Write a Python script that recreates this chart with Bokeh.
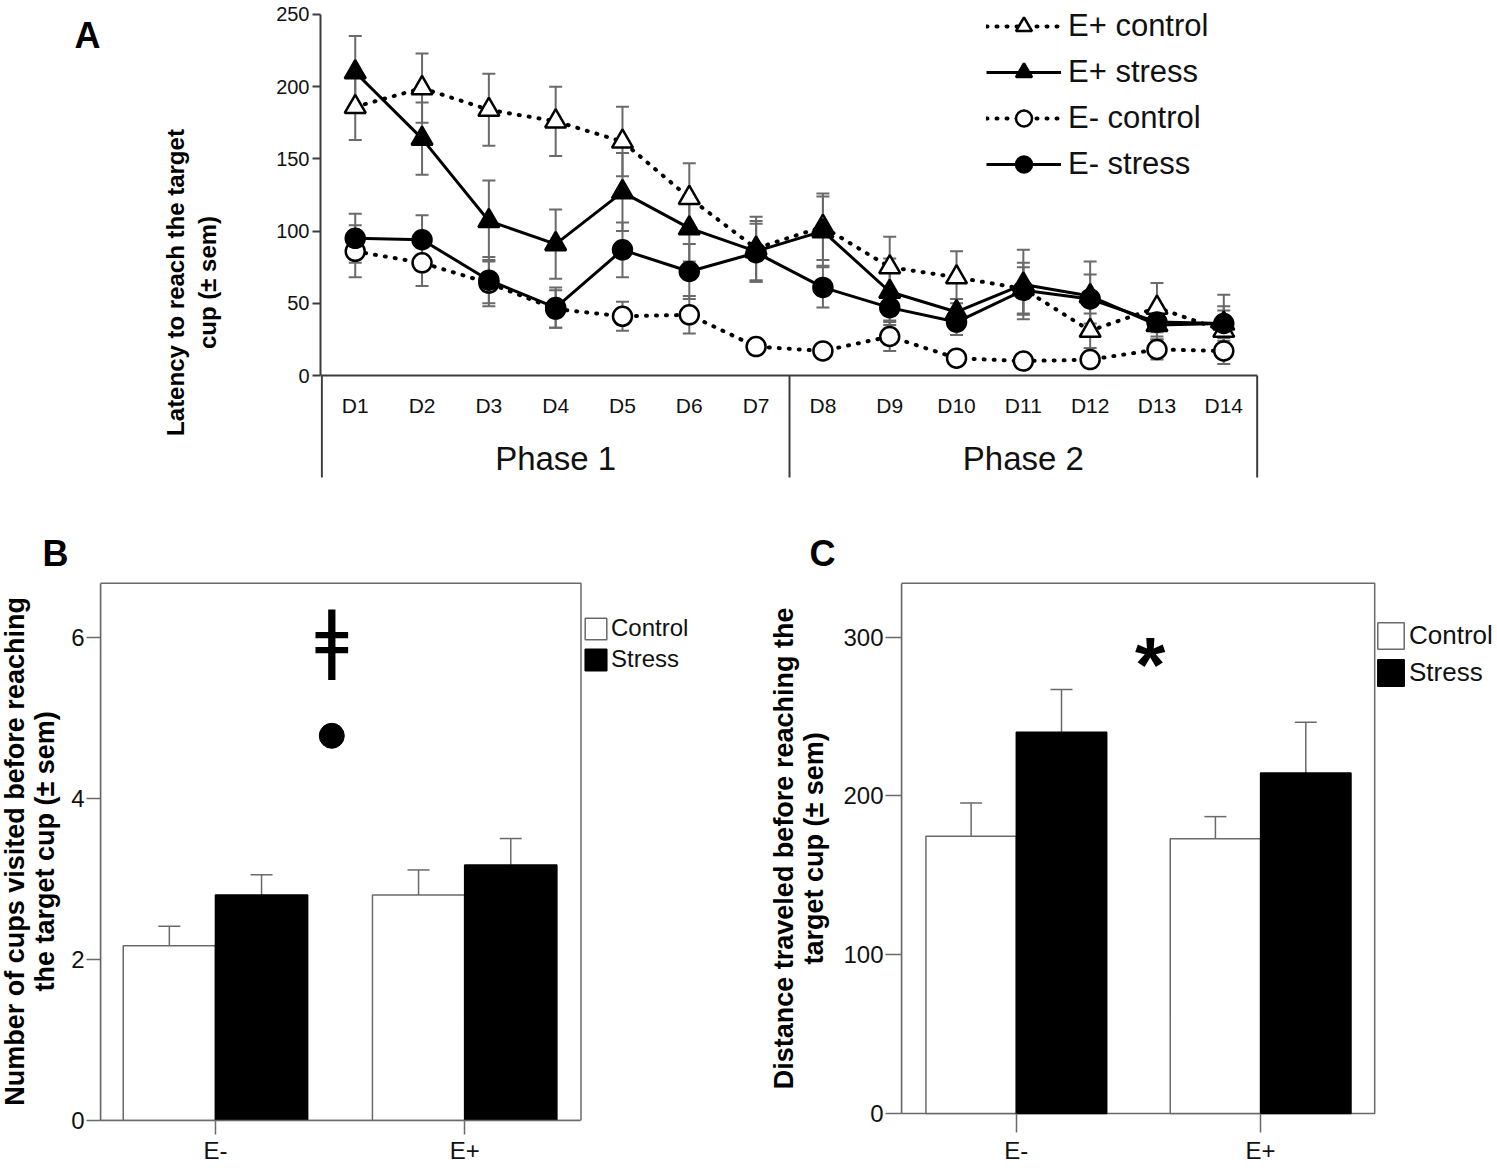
import numpy as np
from bokeh.plotting import figure
from bokeh.models import (ColumnDataSource, Whisker, TeeHead, Legend, LegendItem,
                          LinearAxis, FixedTicker, Range1d, BoxAnnotation)
from bokeh.layouts import column, row
from bokeh.embed import file_html
from bokeh.resources import INLINE
from bokeh.core.properties import value

# ------------------------------------------------------------------ data
days = list(range(1, 15))
day_labels = ["D1", "D2", "D3", "D4", "D5", "D6", "D7",
              "D8", "D9", "D10", "D11", "D12", "D13", "D14"]
phase_labels = ["Phase 1", "Phase 2"]
phase_sizes = [7, 7]
latency_ticks = [0, 50, 100, 150, 200, 250]

ep_control = [186, 199, 184, 176, 162, 123, 88, 103, 75, 68, 60, 31, 47, 31]
ep_control_sem = [23, 24, 25, 24, 24, 24, 22, 23, 21, 18, 18, 12, 17, 14]
ep_stress = [210, 164, 107, 91, 127, 102, 86, 100, 58, 44, 63, 55, 35, 36]
ep_stress_sem = [25, 25, 28, 24, 27, 23, 21, 24, 23, 9, 24, 24, 10, 12]
em_control = [86, 78, 64, 46, 41, 42, 20, 17, 27, 12, 10, 11, 18, 17]
em_control_sem = [18, 16, 16, 13, 10, 13, 3, 2, 10, 3, 2, 3, 7, 9]
em_stress = [95, 94, 66, 47, 87, 72, 85, 61, 47, 37, 59, 53, 37, 36]
em_stress_sem = [17, 17, 16, 14, 19, 19, 20, 14, 9, 9, 16, 17, 10, 20]

groups = ["E-", "E+"]
cups_control = [2.17, 2.80]
cups_control_sem = [0.24, 0.31]
cups_stress = [2.80, 3.17]
cups_stress_sem = [0.25, 0.33]
cups_ticks = [0, 2, 4, 6]

dist_control = [174.6, 173.0]
dist_control_sem = [21, 14]
dist_stress = [240.1, 214.4]
dist_stress_sem = [27, 32]
dist_ticks = [0, 100, 200, 300]

# ------------------------------------------------------------------ style
FONT = "Liberation Sans"
GRAY = "#6a6a6a"
DARK = "#3c3c3c"


class Frame:
    """Page-pixel geometry of a plot frame and its data ranges."""

    def __init__(self, left, top, width, height, x0, x1, y0, y1):
        self.left, self.top, self.width, self.height = left, top, width, height
        self.x0, self.x1, self.y0, self.y1 = x0, x1, y0, y1

    def x(self, px):
        return self.x0 + (px - self.left) / self.width * (self.x1 - self.x0)

    def y(self, py):
        return self.y1 - (py - self.top) / self.height * (self.y1 - self.y0)


def make_fig(fig_left, fig_top, fig_w, fig_h, fr):
    return figure(width=fig_w, height=fig_h,
                  x_range=Range1d(fr.x0, fr.x1), y_range=Range1d(fr.y0, fr.y1),
                  x_axis_type=None, y_axis_type=None, title=None,
                  output_backend="svg", toolbar_location=None,
                  min_border_left=fr.left - fig_left,
                  min_border_right=fig_left + fig_w - (fr.left + fr.width),
                  min_border_top=fr.top - fig_top,
                  min_border_bottom=fig_top + fig_h - (fr.top + fr.height))


def label_fig(left, top, w, h, bt, bb, texts):
    """A plain figure used only for panel letters and rotated axis titles.
    Its borders match the plot beside it (rows align frames); its data
    coordinates are page pixels (y negated)."""
    p = figure(width=w, height=h, x_range=Range1d(left, left + w),
               y_range=Range1d(-(top + h - bb), -(top + bt)), x_axis_type=None,
               y_axis_type=None, title=None, output_backend="svg",
               toolbar_location=None, min_border_left=0, min_border_right=0,
               min_border_top=bt, min_border_bottom=bb)
    p.outline_line_color = None
    for txt, px, py, size, angle in texts:
        p.text(x=[px], y=[-py], text=[txt], angle=angle,
               text_align="center", text_baseline="middle",
               text_font=value(FONT), text_font_size=size,
               text_font_style="bold", text_color="black")
    return p


def style_axis(ax, size, tick_out, standoff, color, width):
    ax.major_tick_in = 0
    ax.major_tick_out = tick_out
    ax.minor_tick_in = 0
    ax.minor_tick_out = 0
    ax.axis_line_color = color
    ax.axis_line_width = width
    ax.major_tick_line_color = color
    ax.major_tick_line_width = width
    ax.major_label_text_font = FONT
    ax.major_label_text_font_size = size
    ax.major_label_standoff = standoff
    ax.major_label_text_color = "#111111"


ROT = np.pi / 2

# ================================================================== panel A
labA = label_fig(0, 0, 262, 520, 6, 40, [
    ("A", 87, 35, "36px", 0.0),
    ("Latency to reach the target", 175, 282, "24px", ROT),
    ("cup (\u00b1 sem)", 207, 282, "24px", ROT),
])

a = Frame(320, 6, 940, 474, 0.48, 0.48 + 940 / 66.81, -72.7, 255.5)
pA = make_fig(262, 0, 1234, 520, a)
pA.outline_line_color = None

yA = LinearAxis(bounds=(latency_ticks[0], latency_ticks[-1]),
                ticker=FixedTicker(ticks=latency_ticks))
style_axis(yA, "20px", 8, 3, DARK, 2)
pA.add_layout(yA, "left")

# table-like category axis below the plot
box_bottom = a.y(477)
edges = [days[0] - 0.5,
         (days[phase_sizes[0] - 1] + days[phase_sizes[0]]) / 2,
         days[-1] + 0.5]
pA.segment(x0=edges, y0=[0] * 3, x1=edges, y1=[box_bottom] * 3,
           line_color=DARK, line_width=2)
pA.segment(x0=[a.x0], y0=[0], x1=[edges[-1]], y1=[0],
           line_color=DARK, line_width=2)
pA.text(x=days, y=[a.y(405)] * len(days), text=day_labels,
        text_align="center", text_baseline="middle",
        text_font=value(FONT), text_font_size="21px", text_color="#111111")
phase_centers = [float(np.mean(days[:phase_sizes[0]])),
                 float(np.mean(days[phase_sizes[0]:]))]
pA.text(x=phase_centers, y=[a.y(458)] * 2, text=phase_labels,
        text_align="center", text_baseline="middle",
        text_font=value(FONT), text_font_size="33px", text_color="#111111")

series = [
    ("E+ control", ep_control, ep_control_sem, "triangle", "white", True),
    ("E+ stress", ep_stress, ep_stress_sem, "triangle", "black", False),
    ("E- control", em_control, em_control_sem, "circle", "white", True),
    ("E- stress", em_stress, em_stress_sem, "circle", "black", False),
]
items = []
for name, vals, sem, marker, fill, dotted in series:
    v = np.array(vals, dtype=float)
    s = np.array(sem, dtype=float)
    src = ColumnDataSource(dict(x=days, y=v, upper=v + s, lower=v - s))
    pA.add_layout(Whisker(source=src, base="x", upper="upper", lower="lower",
                          level="underlay", line_color=GRAY, line_width=2,
                          upper_head=TeeHead(size=13, line_color=GRAY, line_width=2),
                          lower_head=TeeHead(size=13, line_color=GRAY, line_width=2)))
    if dotted:
        ln = pA.line("x", "y", source=src, line_color="black", line_width=4,
                     line_dash="1 9", line_cap="round")
    else:
        ln = pA.line("x", "y", source=src, line_color="black", line_width=3)
    sc = pA.scatter("x", "y", source=src, marker=marker,
                    size=21 if marker == "triangle" else 19,
                    fill_color=fill, line_color="black", line_width=2.5)
    items.append(LegendItem(label=name, renderers=[ln, sc]))

legA = Legend(items=items, location=(986 - a.left, a.top + a.height - (6 + 178)),
              orientation="vertical", glyph_width=75, glyph_height=40,
              label_height=40, spacing=6, padding=0, margin=0, label_standoff=7,
              label_text_font=FONT, label_text_font_size="31px",
              label_text_color="#111111",
              border_line_color=None, background_fill_alpha=0)
pA.add_layout(legA)


# ================================================================== bar panels
ROW_TOP, ROW_H, ROW_BB = 520, 646, 44   # all figures of the row share borders


def bar_panel(fig_left, fig_w, fr, box_right_px, box_top_px, ticks,
              ctrl, ctrl_sem, strs, strs_sem, y_tick_out, x_tick_in, x_tick_out,
              x_standoff, leg, leg_font):
    """The frame spans the plot box plus free room above and to the right
    (legend area); the plot box itself is drawn as a box annotation."""
    p = make_fig(fig_left, ROW_TOP, fig_w, ROW_H, fr)
    p.outline_line_color = None
    box_right = fr.x(box_right_px)
    box_top = fr.y(box_top_px)

    yax = LinearAxis(ticker=FixedTicker(ticks=ticks), bounds=(0, box_top))
    style_axis(yax, "24px", y_tick_out, 2, GRAY, 1.5)
    p.add_layout(yax, "left")
    gx = list(range(1, len(groups) + 1))
    xax = LinearAxis(ticker=FixedTicker(ticks=gx), bounds=(fr.x0, box_right),
                     major_label_overrides={g: lab for g, lab in zip(gx, groups)})
    style_axis(xax, "24px", x_tick_out, x_standoff, GRAY, 1.5)
    xax.major_tick_in = x_tick_in
    if fr.y0 < 0:          # zero line lies above the frame bottom
        xax.axis_line_color = None
    p.add_layout(xax, "below")

    p.add_layout(BoxAnnotation(left=fr.x0, right=box_right, bottom=0, top=box_top,
                               fill_alpha=0, line_color=GRAY, line_alpha=1.0,
                               line_width=1.5, level="underlay"))

    w, off = 0.37, 0.185
    xc = [g - off for g in gx]
    xs = [g + off for g in gx]
    c = np.array(ctrl, dtype=float)
    cs = np.array(ctrl_sem, dtype=float)
    s = np.array(strs, dtype=float)
    ss = np.array(strs_sem, dtype=float)

    src_s = ColumnDataSource(dict(x=xs, top=s, upper=s + ss, lower=s - ss))
    src_c = ColumnDataSource(dict(x=xc, top=c, upper=c + cs, lower=c - cs))
    head = dict(size=22, line_color=GRAY, line_width=1.5)
    p.add_layout(Whisker(source=src_s, base="x", upper="upper", lower="lower",
                         level="underlay", line_color=GRAY, line_width=1.5,
                         upper_head=TeeHead(**head), lower_head=TeeHead(**head)))
    rc = p.vbar(x="x", top="top", bottom=0, width=w, source=src_c,
                fill_color="white", line_color=GRAY, line_width=1.5)
    rs = p.vbar(x="x", top="top", bottom=0, width=w, source=src_s,
                fill_color="black", line_color="black", line_width=1.5)
    p.add_layout(Whisker(source=src_c, base="x", upper="upper", lower="lower",
                         line_color=GRAY, line_width=1.5,
                         upper_head=TeeHead(**head), lower_head=TeeHead(**head)))

    gw, sp, lleft, ltop = leg
    lh = 2 * gw + sp
    lg = Legend(items=[LegendItem(label="Control", renderers=[rc]),
                       LegendItem(label="Stress", renderers=[rs])],
                location=(lleft - fr.left, fr.top + fr.height - (ltop + lh)),
                orientation="vertical", glyph_width=gw, glyph_height=gw,
                label_height=gw, spacing=sp, padding=0, margin=0,
                label_standoff=2, label_text_font=FONT,
                label_text_font_size=leg_font, label_text_color="#111111",
                border_line_color=None, background_fill_alpha=0)
    p.add_layout(lg)
    return p


FR_BOTTOM = ROW_TOP + ROW_H - ROW_BB      # 1122
FR_H = FR_BOTTOM - ROW_TOP                # 602

labB = label_fig(0, ROW_TOP, 68, ROW_H, 0, ROW_BB, [
    ("B", 55, 553, "36px", 0.0),
    ("Number of cups visited before reaching", 14, 852, "27px", ROT),
    ("the target cup (\u00b1 sem)", 44, 852, "27px", ROT),
])
# frame: page x 98..740 ; zero at y=1122 ; 250 px per group, 80.83 px per cup
b = Frame(98, ROW_TOP, 642, FR_H, 0.5388, 0.5388 + 642 / 250.0,
          0, FR_H / 80.83)
pB = bar_panel(68, 672, b, 580, 583, cups_ticks, cups_control, cups_control_sem,
               cups_stress, cups_stress_sem, 14, 0, 14, 2,
               (27, 3, 580, 618), "24px")
# significance marks in panel B
pB.text(x=[b.x(330)], y=[b.y(637.5)], text=["\u01c2"],
        text_align="center", text_baseline="middle",
        text_font=value("DejaVu Sans"), text_font_size="74px", text_color="black")
pB.scatter(x=[b.x(330)], y=[b.y(736)], size=25, marker="circle",
           fill_color="black", line_color="black")

labC = label_fig(740, ROW_TOP, 100, ROW_H, 0, ROW_BB, [
    ("C", 822, 553, "36px", 0.0),
    ("Distance traveled before reaching the", 783, 849, "27px", ROT),
    ("target cup (\u00b1 sem)", 813, 849, "27px", ROT),
])
# frame: page x 900..1496 ; zero at y=1115 ; 244.7 px per group, 1.593 px per unit
c = Frame(900, ROW_TOP, 596, FR_H, 0.530, 0.530 + 596 / 244.7,
          -(FR_BOTTOM - 1115) / 1.593, (1115 - ROW_TOP) / 1.593)
pC = bar_panel(840, 656, c, 1374, 583, dist_ticks, dist_control, dist_control_sem,
               dist_stress, dist_stress_sem, 16, FR_BOTTOM - 1115, 12, 4,
               (33, 4, 1373, 621), "26px")
pC.text(x=[c.x(1149)], y=[c.y(665)], text=["*"],
        text_align="center", text_baseline="middle",
        text_font=value(FONT), text_font_size="78px", text_font_style="bold",
        text_color="black")

layout = column(row(labA, pA), row(labB, pB, labC, pC))
open("out.html", "w").write(file_html(layout, INLINE))
